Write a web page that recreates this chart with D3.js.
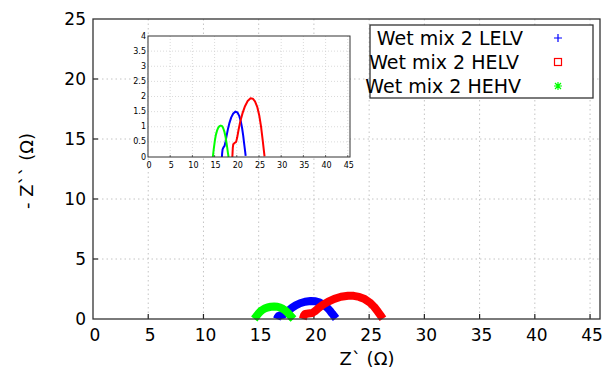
<!DOCTYPE html>
<html>
<head>
<meta charset="utf-8">
<script src="https://cdn.jsdelivr.net/npm/d3@7"></script>
<style>
  html, body { margin: 0; padding: 0; background: #fff; }
  svg { display: block; }
  text { font-family: "DejaVu Sans", Verdana, sans-serif; fill: #000; }
</style>
</head>
<body>
<svg id="chart" width="614" height="372"></svg>
<script>
// Nyquist data: [Z' (ohm), -Z'' (ohm)]
const seriesNames = ["Wet mix 2 LELV", "Wet mix 2 HELV", "Wet mix 2 HEHV"];
const seriesColors = ["#0000ff", "#ff0000", "#00ff00"];
const seriesSymbols = ["plus", "square", "star"];

const lelv = [[16.65,0.0],[16.7,0.12],[16.8,0.25],[17.0,0.32],[17.25,0.37],[17.45,0.5],[17.7,0.7],[18.0,0.92],[18.35,1.13],[18.75,1.31],[19.2,1.44],[19.7,1.5],[20.15,1.47],[20.55,1.36],[20.9,1.18],[21.2,0.95],[21.45,0.7],[21.65,0.45],[21.85,0.22],[22.0,0.04]];
const helv = [[19.0,0.0],[19.05,0.15],[19.1,0.3],[19.2,0.42],[19.5,0.46],[19.85,0.5],[20.1,0.65],[20.4,0.9],[20.8,1.18],[21.3,1.45],[21.85,1.68],[22.45,1.85],[23.1,1.94],[23.6,1.93],[24.1,1.84],[24.6,1.66],[25.05,1.38],[25.45,1.02],[25.8,0.6],[26.05,0.28],[26.25,0.02]];
const hehv = [[14.6,0.0],[14.7,0.12],[14.8,0.25],[14.95,0.42],[15.1,0.58],[15.3,0.74],[15.55,0.87],[15.8,0.96],[16.1,1.02],[16.4,1.04],[16.7,1.02],[16.95,0.95],[17.2,0.84],[17.45,0.68],[17.65,0.5],[17.85,0.3],[18.0,0.14],[18.15,0.0]];
const allSeries = [lelv, helv, hehv];
// drawing order: blue, red on top of it, green last
const drawOrder = [0, 1, 2];

const xTicks = [0,5,10,15,20,25,30,35,40,45];
const yTicks = [0,5,10,15,20,25];
const insetYTicks = [0,0.5,1,1.5,2,2.5,3,3.5,4];
const insetYLabels = ["0","0.5","1","1.5","2","2.5","3","3.5","4"];

const svg = d3.select("#chart");

// ---------- main plot ----------
const M = {left: 93, top: 19, right: 600, bottom: 319};
const x = d3.scaleLinear().domain([0, 45.9]).range([M.left, M.right]);
const y = d3.scaleLinear().domain([0, 25]).range([M.bottom, M.top]);

const grid = svg.append("g").attr("stroke", "#c4c4c4").attr("stroke-dasharray", "1.5,3").attr("stroke-width", 1);
grid.selectAll("line.v").data(xTicks.filter(d => d > 0)).join("line")
  .attr("x1", d => x(d)).attr("x2", d => x(d)).attr("y1", M.top).attr("y2", M.bottom);
grid.selectAll("line.h").data(yTicks.filter(d => d > 0 && d < 25)).join("line")
  .attr("x1", M.left).attr("x2", M.right).attr("y1", d => y(d)).attr("y2", d => y(d));

// tick marks (inward)
svg.append("g").attr("stroke", "#222").attr("stroke-width", 1.2)
  .selectAll("line").data(xTicks.filter(d => d > 0)).join("line")
  .attr("x1", d => x(d)).attr("x2", d => x(d)).attr("y1", M.bottom).attr("y2", M.bottom - 5);
svg.append("g").attr("stroke", "#222").attr("stroke-width", 1.2)
  .selectAll("line").data(yTicks.filter(d => d > 0 && d < 25)).join("line")
  .attr("x1", M.left).attr("x2", M.left + 5).attr("y1", d => y(d)).attr("y2", d => y(d));

// tick labels
svg.append("g").selectAll("text").data(xTicks).join("text")
  .attr("x", d => x(d) + 2).attr("y", M.bottom + 16).attr("text-anchor", "middle")
  .attr("dominant-baseline", "central").attr("font-size", 17).text(d => d);
svg.append("g").selectAll("text").data(yTicks).join("text")
  .attr("x", M.left - 7).attr("y", d => y(d)).attr("text-anchor", "end")
  .attr("dominant-baseline", "central").attr("font-size", 17).text(d => d);

// axis titles
svg.append("text").attr("x", 367).attr("y", 358).attr("text-anchor", "middle")
  .attr("dominant-baseline", "central").attr("font-size", 18).text("Z` (Ω)");
svg.append("text").attr("transform", "translate(26,171) rotate(-90)")
  .attr("text-anchor", "middle").attr("dominant-baseline", "central")
  .attr("font-size", 18).text("- Z`` (Ω)");

// curves
const line = d3.line().x(d => x(d[0])).y(d => y(d[1]));
const curves = svg.append("g");
drawOrder.forEach(i => {
  curves.append("path").datum(allSeries[i]).attr("d", line)
    .attr("fill", "none").attr("stroke", seriesColors[i]).attr("stroke-width", 8)
    .attr("stroke-linejoin", "round").attr("stroke-linecap", "butt");
});

// frame
svg.append("rect").attr("x", M.left).attr("y", M.top)
  .attr("width", M.right - M.left).attr("height", M.bottom - M.top)
  .attr("fill", "none").attr("stroke", "#333").attr("stroke-width", 1.3);

// ---------- inset ----------
const I = {left: 148, top: 36, right: 350, bottom: 157};
const xi = d3.scaleLinear().domain([0, 45.5]).range([I.left, I.right]);
const yi = d3.scaleLinear().domain([0, 4]).range([I.bottom, I.top]);

svg.append("rect").attr("x", I.left).attr("y", I.top)
  .attr("width", I.right - I.left).attr("height", I.bottom - I.top).attr("fill", "#fff");

const igrid = svg.append("g").attr("stroke", "#d0d0d0").attr("stroke-dasharray", "1,2").attr("stroke-width", 0.8);
igrid.selectAll("line.v").data(xTicks.filter(d => d > 0)).join("line")
  .attr("x1", d => xi(d)).attr("x2", d => xi(d)).attr("y1", I.top).attr("y2", I.bottom);
igrid.selectAll("line.h").data(insetYTicks.filter(d => d > 0 && d < 4)).join("line")
  .attr("x1", I.left).attr("x2", I.right).attr("y1", d => yi(d)).attr("y2", d => yi(d));

svg.append("g").attr("stroke", "#444").attr("stroke-width", 0.8)
  .selectAll("line").data(xTicks.filter(d => d > 0)).join("line")
  .attr("x1", d => xi(d)).attr("x2", d => xi(d)).attr("y1", I.bottom).attr("y2", I.bottom - 2);

svg.append("g").selectAll("text").data(xTicks).join("text")
  .attr("x", d => xi(d) + 1).attr("y", I.bottom + 8).attr("text-anchor", "middle")
  .attr("dominant-baseline", "central").attr("font-size", 8).attr("fill", "#333").text(d => d);
svg.append("g").selectAll("text").data(insetYTicks).join("text")
  .attr("x", I.left - 2).attr("y", d => yi(d)).attr("text-anchor", "end")
  .attr("dominant-baseline", "central").attr("font-size", 8).attr("fill", "#333")
  .text((d, k) => insetYLabels[k]);

const iline = d3.line().x(d => xi(d[0])).y(d => yi(d[1]));
drawOrder.forEach(i => {
  svg.append("path").datum(allSeries[i]).attr("d", iline)
    .attr("fill", "none").attr("stroke", seriesColors[i]).attr("stroke-width", 2)
    .attr("stroke-linejoin", "round");
});

svg.append("rect").attr("x", I.left).attr("y", I.top)
  .attr("width", I.right - I.left).attr("height", I.bottom - I.top)
  .attr("fill", "none").attr("stroke", "#333").attr("stroke-width", 1);

// ---------- legend ----------
const L = {left: 370, top: 25, right: 593, bottom: 98};
svg.append("rect").attr("x", L.left).attr("y", L.top)
  .attr("width", L.right - L.left).attr("height", L.bottom - L.top)
  .attr("fill", "#fff").attr("stroke", "#333").attr("stroke-width", 1.3);
const legendY = [38, 62, 86];
const legendRight = [523, 519, 521];
const lg = svg.append("g");
seriesNames.forEach((name, i) => {
  lg.append("text").attr("x", legendRight[i]).attr("y", legendY[i]).attr("text-anchor", "end")
    .attr("dominant-baseline", "central").attr("font-size", 19).text(name);
  const sym = seriesSymbols[i];
  const cx = 558, cy = legendY[i];
  if (sym === "plus") {
    lg.append("path").attr("d", `M${cx-4},${cy}H${cx+4}M${cx},${cy-4}V${cy+4}`)
      .attr("stroke", seriesColors[i]).attr("stroke-width", 1.2);
  } else if (sym === "square") {
    lg.append("rect").attr("x", cx - 3.5).attr("y", cy - 3.5).attr("width", 7).attr("height", 7)
      .attr("fill", "none").attr("stroke", seriesColors[i]).attr("stroke-width", 1.2);
  } else {
    lg.append("path").attr("d", `M${cx-4},${cy}H${cx+4}M${cx},${cy-4}V${cy+4}M${cx-3},${cy-3}L${cx+3},${cy+3}M${cx-3},${cy+3}L${cx+3},${cy-3}`)
      .attr("stroke", seriesColors[i]).attr("stroke-width", 1.2);
  }
});
</script>
</body>
</html>
